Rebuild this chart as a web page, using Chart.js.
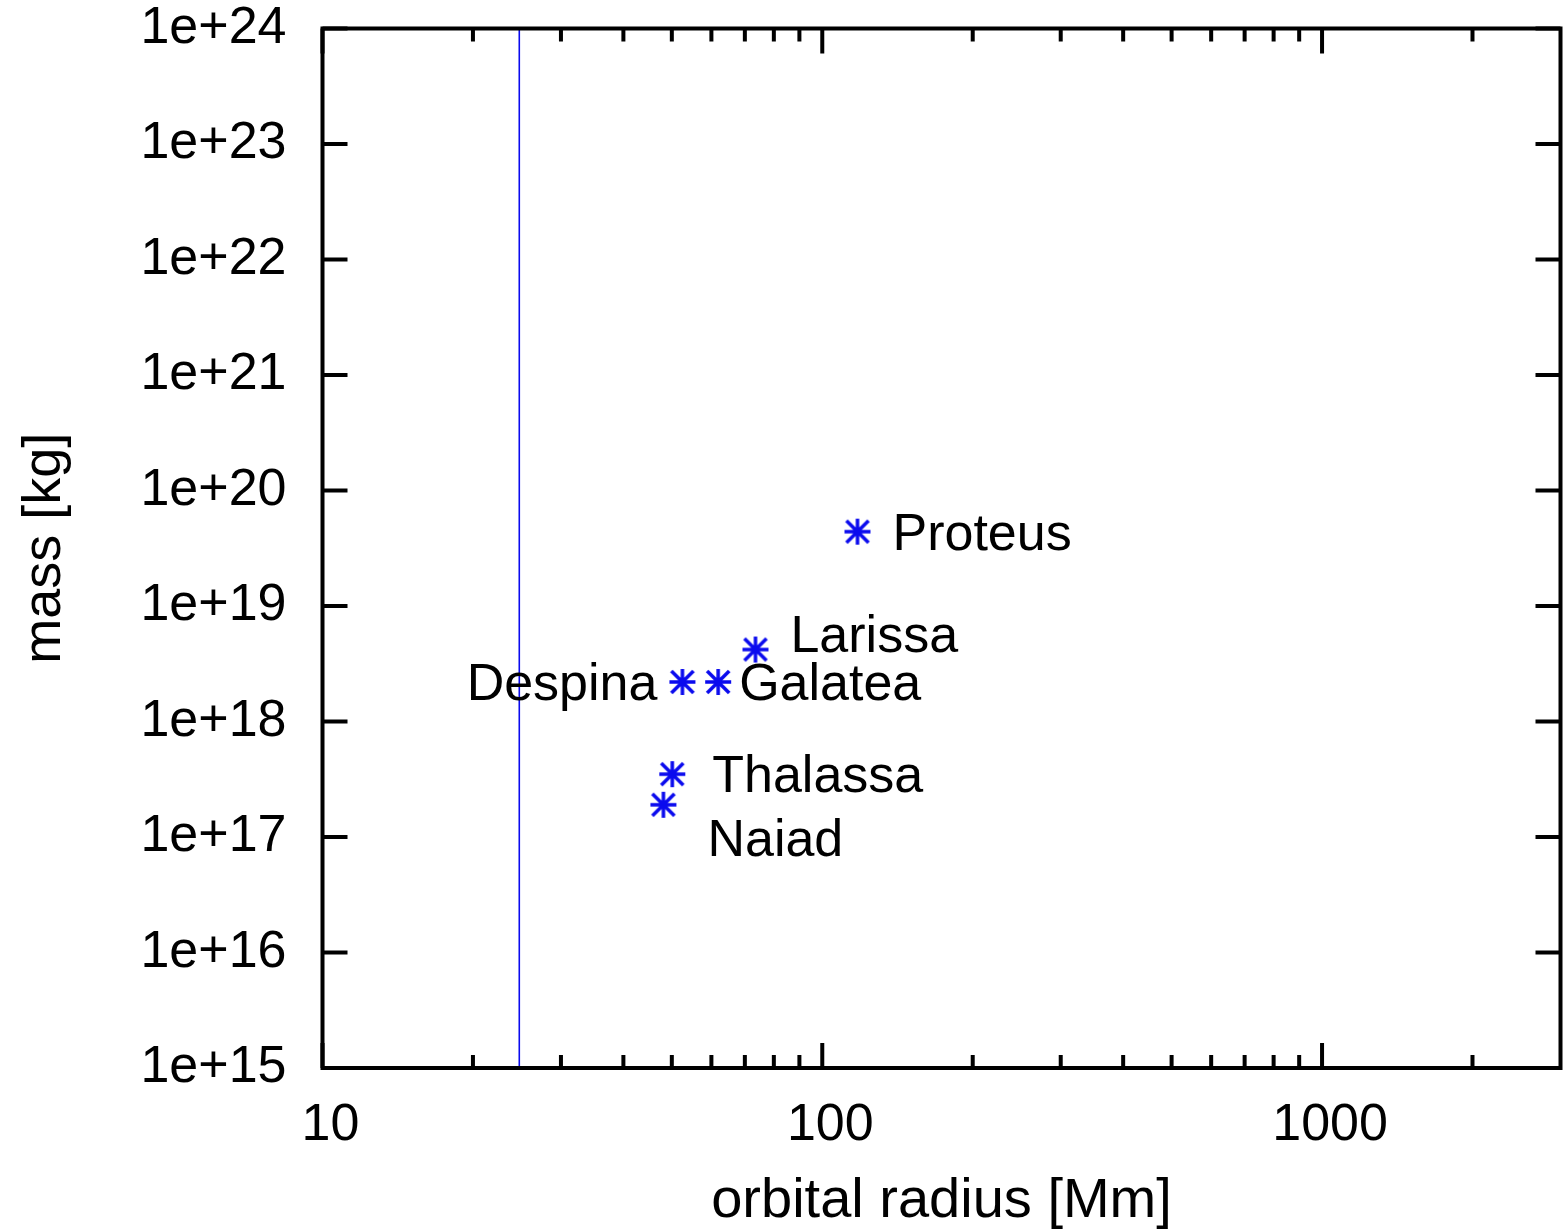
<!DOCTYPE html>
<html>
<head>
<meta charset="utf-8">
<title>Neptune inner moons: mass vs orbital radius</title>
<script src="https://cdn.jsdelivr.net/npm/chart.js@4/dist/chart.umd.min.js"></script>
<style>
  html, body { margin: 0; padding: 0; background: #ffffff; }
  #wrap { width: 1564px; height: 1230px; }
</style>
</head>
<body>
<div id="wrap"><canvas id="chart" width="1564" height="1230"></canvas></div>
<script>
// Inner moons of Neptune
const moonNames = ['Naiad', 'Thalassa', 'Despina', 'Galatea', 'Larissa', 'Proteus'];
const orbitalRadiusMm = [48.1, 50.1, 52.5, 61.9, 73.5, 117.6];
const massKg = [1.9e17, 3.5e17, 2.2e18, 2.2e18, 4.2e18, 4.4e19];

// Neptune's radius, drawn as a vertical line
const planetRadiusMm = [24.76, 24.76];
const planetLineMass = [1e15, 1e24];

// Axis ticks
const xTickValues = [10, 100, 1000];
const xTickLabels = ['10', '100', '1000'];
const xMinorTicks = [20, 30, 40, 50, 60, 70, 80, 90, 200, 300, 400, 500, 600, 700, 800, 900, 2000];
const yTickValues = [1e15, 1e16, 1e17, 1e18, 1e19, 1e20, 1e21, 1e22, 1e23, 1e24];
const yTickLabels = ['1e+15', '1e+16', '1e+17', '1e+18', '1e+19', '1e+20', '1e+21', '1e+22', '1e+23', '1e+24'];

const BLUE = '#0a0aee';
const FAMILY = '"Liberation Sans", Arial, Helvetica, sans-serif';
const FONT = { family: FAMILY, size: 52, lineHeight: 1 };
const X_TITLE_FONT = { family: FAMILY, size: 56, lineHeight: 1 };
const Y_TITLE_FONT = { family: FAMILY, size: 54, lineHeight: 1 };

// Where each moon's name sits relative to its marker
const labelPlacement = {
  Naiad:    { dx: 44,  dy: 51, align: 'left' },
  Thalassa: { dx: 40,  dy: 18, align: 'left' },
  Despina:  { dx: -25, dy: 18, align: 'right' },
  Galatea:  { dx: 21,  dy: 18, align: 'left' },
  Larissa:  { dx: 35,  dy: 2,  align: 'left' },
  Proteus:  { dx: 35,  dy: 18, align: 'left' }
};

// Asterisk marker: "+" overlaid with "x"
function makeAsterisk(r, lw, color) {
  const size = Math.ceil(2 * r + lw + 2);
  const c = document.createElement('canvas');
  c.width = size; c.height = size;
  const g = c.getContext('2d');
  const m = size / 2, d = r * 0.85;
  g.strokeStyle = color; g.lineWidth = lw; g.lineCap = 'butt';
  g.beginPath();
  g.moveTo(m, m - r); g.lineTo(m, m + r);
  g.moveTo(m - r, m); g.lineTo(m + r, m);
  g.moveTo(m - d, m - d); g.lineTo(m + d, m + d);
  g.moveTo(m - d, m + d); g.lineTo(m + d, m - d);
  g.stroke();
  return c;
}

const moonPoints = orbitalRadiusMm.map((x, i) => ({ x: x, y: massKg[i] }));
const planetLine = planetRadiusMm.map((x, i) => ({ x: x, y: planetLineMass[i] }));

// Frame with inward-pointing ticks on all four sides
const framePlugin = {
  id: 'frame',
  afterDraw(chart) {
    const { ctx, chartArea: a, scales: { x, y } } = chart;
    ctx.save();
    ctx.strokeStyle = '#000';
    ctx.lineWidth = 4;
    ctx.lineCap = 'butt';
    ctx.beginPath();
    const tick = (px, len) => {
      ctx.moveTo(px, a.bottom); ctx.lineTo(px, a.bottom - len);
      ctx.moveTo(px, a.top); ctx.lineTo(px, a.top + len);
    };
    xTickValues.forEach(v => tick(x.getPixelForValue(v), 25));
    xMinorTicks.forEach(v => tick(x.getPixelForValue(v), 13));
    yTickValues.forEach(v => {
      const py = y.getPixelForValue(v);
      ctx.moveTo(a.left, py); ctx.lineTo(a.left + 25, py);
      ctx.moveTo(a.right, py); ctx.lineTo(a.right - 25, py);
    });
    ctx.stroke();
    ctx.strokeRect(a.left, a.top, a.right - a.left, a.bottom - a.top);
    ctx.restore();
  }
};

// Moon names next to their markers
const namePlugin = {
  id: 'names',
  afterDatasetsDraw(chart) {
    const { ctx } = chart;
    const meta = chart.getDatasetMeta(1);
    ctx.save();
    ctx.fillStyle = '#000';
    ctx.font = `${FONT.size}px ${FONT.family}`;
    ctx.textBaseline = 'alphabetic';
    meta.data.forEach((pt, i) => {
      const name = moonNames[i];
      const p = labelPlacement[name];
      ctx.textAlign = p.align;
      ctx.fillText(name, pt.x + p.dx, pt.y + p.dy);
    });
    ctx.restore();
  }
};

new Chart(document.getElementById('chart'), {
  type: 'scatter',
  data: {
    datasets: [
      {
        type: 'line',
        data: planetLine,
        borderColor: BLUE,
        borderWidth: 1.6,
        pointRadius: 0,
        fill: false
      },
      {
        data: moonPoints,
        pointStyle: makeAsterisk(13, 3.5, BLUE),
        pointRadius: 14,
        pointHoverRadius: 14,
        showLine: false
      }
    ]
  },
  options: {
    responsive: false,
    animation: false,
    events: [],
    layout: { autoPadding: false, padding: { top: 28.5, right: 3.5, left: 0, bottom: 0 } },
    plugins: { legend: { display: false }, tooltip: { enabled: false } },
    scales: {
      x: {
        type: 'logarithmic',
        min: 10,
        max: 3000,
        grid: { display: false, drawTicks: false },
        border: { display: false },
        afterBuildTicks: s => { s.ticks = xTickValues.map(v => ({ value: v })); },
        afterFit: s => { s.height = 162; s.paddingLeft = 0; s.paddingRight = 0; },
        ticks: {
          color: '#000',
          font: FONT,
          padding: 32,
          labelOffset: 8,
          maxRotation: 0,
          autoSkip: false,
          callback: (v, i) => xTickLabels[i]
        },
        title: {
          display: true,
          text: 'orbital radius [Mm]',
          color: '#000',
          font: X_TITLE_FONT,
          padding: { top: 0, bottom: 0 }
        }
      },
      y: {
        type: 'logarithmic',
        min: 1e15,
        max: 1e24,
        grid: { display: false, drawTicks: false },
        border: { display: false },
        afterBuildTicks: s => { s.ticks = yTickValues.map(v => ({ value: v })); },
        afterFit: s => { s.width = 322.5; s.paddingTop = 0; s.paddingBottom = 0; },
        ticks: {
          color: '#000',
          font: FONT,
          padding: 36,
          autoSkip: false,
          callback: (v, i) => yTickLabels[i]
        },
        title: {
          display: true,
          text: 'mass [kg]',
          color: '#000',
          font: Y_TITLE_FONT,
          padding: { top: 18, bottom: 0 }
        }
      }
    }
  },
  plugins: [namePlugin, framePlugin]
});
</script>
</body>
</html>
